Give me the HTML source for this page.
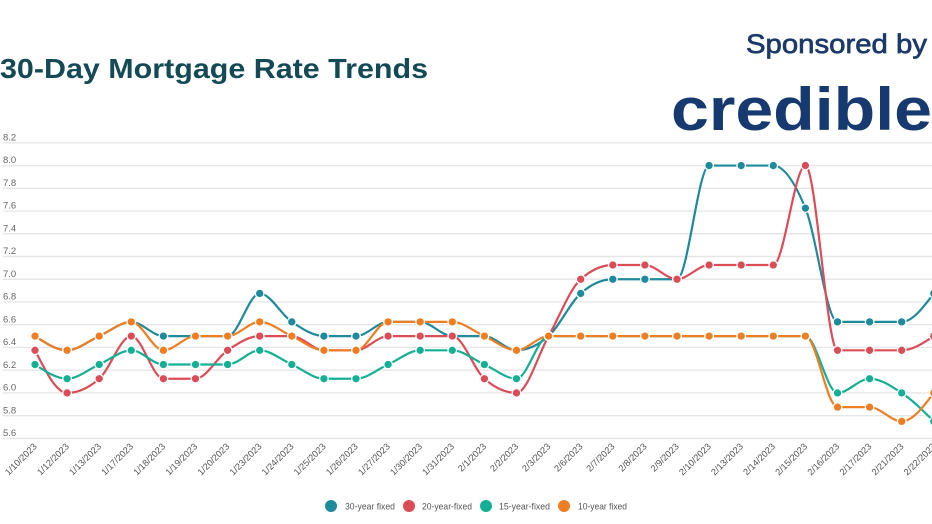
<!DOCTYPE html>
<html>
<head>
<meta charset="utf-8">
<style>
html,body{margin:0;padding:0;background:#fff;}
body{width:932px;height:524px;overflow:hidden;}
svg{display:block;}
text{font-family:"Liberation Sans",sans-serif;}
</style>
</head>
<body>
<svg id="c" width="932" height="524" viewBox="0 0 932 524" xmlns="http://www.w3.org/2000/svg">
  <rect x="0" y="0" width="932" height="524" fill="#fff"/>
  <text x="0" y="78" font-size="28" font-weight="bold" fill="#134a56" textLength="428" lengthAdjust="spacingAndGlyphs">30-Day Mortgage Rate Trends</text>
  <text x="746" y="53" font-size="27" fill="#1b3a6b" stroke="#1b3a6b" stroke-width="0.7" textLength="181" lengthAdjust="spacingAndGlyphs">Sponsored by</text>
  <text x="671" y="130" font-size="60" font-weight="bold" fill="#163a70" textLength="261" lengthAdjust="spacingAndGlyphs">credible</text>
  <g id="grid"></g>
  <g id="ylab"></g>
  <g id="xlab"></g>
  <g id="series"></g>
  <g id="legend">
    <circle cx="331" cy="506" r="6" fill="#1f8a9c"/>
    <text x="345" y="509.5" font-size="9.5" fill="#555" textLength="50" lengthAdjust="spacingAndGlyphs">30-year fixed</text>
    <circle cx="409" cy="506" r="6" fill="#dc4c57"/>
    <text x="422" y="509.5" font-size="9.5" fill="#555" textLength="50" lengthAdjust="spacingAndGlyphs">20-year-fixed</text>
    <circle cx="486" cy="506" r="6" fill="#14b096"/>
    <text x="499" y="509.5" font-size="9.5" fill="#555" textLength="51" lengthAdjust="spacingAndGlyphs">15-year-fixed</text>
    <circle cx="564" cy="506" r="6" fill="#ef7d22"/>
    <text x="578" y="509.5" font-size="9.5" fill="#555" textLength="49" lengthAdjust="spacingAndGlyphs">10-year fixed</text>
  </g>
</svg>
<script>
(function(){
  var NS="http://www.w3.org/2000/svg";
  function el(tag,attrs,parent,txt){var e=document.createElementNS(NS,tag);for(var k in attrs)e.setAttribute(k,attrs[k]);if(txt!==undefined)e.textContent=txt;parent.appendChild(e);return e;}
  function Y(v){return 142.8+(8.2-v)*113.7;}
  function X(i){return 35+i*32.1;}
  var grid=document.getElementById('grid'),ylab=document.getElementById('ylab'),xlab=document.getElementById('xlab'),ser=document.getElementById('series');
  for(var k=0;k<14;k++){
    var v=8.2-k*0.2, y=Y(v);
    el('line',{x1:3,x2:932,y1:y,y2:y,stroke:'#e6e6e6','stroke-width':1.4},grid);
    el('text',{x:3,y:y-2.3,'font-size':9.5,fill:'#666'},ylab,v.toFixed(1));
  }
  var dates=["1/10","1/12","1/13","1/17","1/18","1/19","1/20","1/23","1/24","1/25","1/26","1/27","1/30","1/31","2/1","2/2","2/3","2/6","2/7","2/8","2/9","2/10","2/13","2/14","2/15","2/16","2/17","2/21","2/22"];
  dates.forEach(function(d,i){
    var x=X(i)+2.5,y=447;
    el('text',{x:x,y:y,'font-size':9.2,fill:'#555','text-anchor':'end',transform:'rotate(-45 '+x+' '+y+')'},xlab,d+'/2023');
  });
  var data=[
    {c:'#1f8a9c',v:[6.5,6.375,6.5,6.625,6.5,6.5,6.5,6.875,6.625,6.5,6.5,6.625,6.625,6.5,6.5,6.375,6.5,6.875,7.0,7.0,7.0,8.0,8.0,8.0,7.625,6.625,6.625,6.625,6.875]},
    {c:'#dc4c57',v:[6.375,6.0,6.125,6.5,6.125,6.125,6.375,6.5,6.5,6.375,6.375,6.5,6.5,6.5,6.125,6.0,6.5,7.0,7.125,7.125,7.0,7.125,7.125,7.125,8.0,6.375,6.375,6.375,6.5]},
    {c:'#14b096',v:[6.25,6.125,6.25,6.375,6.25,6.25,6.25,6.375,6.25,6.125,6.125,6.25,6.375,6.375,6.25,6.125,6.5,6.5,6.5,6.5,6.5,6.5,6.5,6.5,6.5,6.0,6.125,6.0,5.75]},
    {c:'#ef7d22',v:[6.5,6.375,6.5,6.625,6.375,6.5,6.5,6.625,6.5,6.375,6.375,6.625,6.625,6.625,6.5,6.375,6.5,6.5,6.5,6.5,6.5,6.5,6.5,6.5,6.5,5.875,5.875,5.75,6.0]}
  ];
  function sign(x){return x<0?-1:1;}
  function monotone(px,py){
    var n=px.length,t=new Array(n);
    for(var i=1;i<n-1;i++){
      var h0=px[i]-px[i-1],h1=px[i+1]-px[i];
      var s0=(py[i]-py[i-1])/h0,s1=(py[i+1]-py[i])/h1;
      var p=(s0*h1+s1*h0)/(h0+h1);
      t[i]=(sign(s0)+sign(s1))*Math.min(Math.abs(s0),Math.abs(s1),0.5*Math.abs(p))||0;
    }
    var h=px[1]-px[0];t[0]=(3*(py[1]-py[0])/h-t[1])/2;
    h=px[n-1]-px[n-2];t[n-1]=(3*(py[n-1]-py[n-2])/h-t[n-2])/2;
    var d='M'+px[0]+','+py[0];
    for(var j=0;j<n-1;j++){
      var dx=(px[j+1]-px[j])/3;
      d+='C'+(px[j]+dx)+','+(py[j]+dx*t[j])+','+(px[j+1]-dx)+','+(py[j+1]-dx*t[j+1])+','+px[j+1]+','+py[j+1];
    }
    return d;
  }
  data.forEach(function(s){
    var px=s.v.map(function(_,i){return X(i);}),py=s.v.map(Y);
    el('path',{d:monotone(px,py),fill:'none',stroke:s.c,'stroke-width':2.2,'stroke-linejoin':'round'},ser);
  });
  data.forEach(function(s){
    s.v.forEach(function(v,i){
      el('circle',{cx:X(i),cy:Y(v),r:4.3,fill:s.c,stroke:'#fff','stroke-width':1.3},ser);
    });
  });
})();
</script>
</body>
</html>
